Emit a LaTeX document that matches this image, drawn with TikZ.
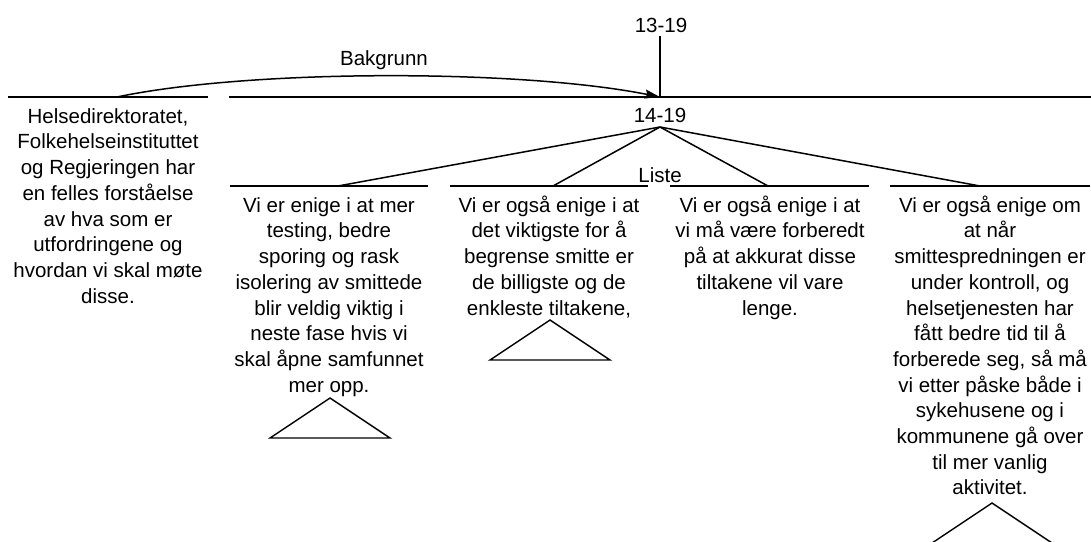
\documentclass[tikz,border=0pt]{standalone}
\usepackage{fontspec}
\setmainfont{Liberation Sans}
\usetikzlibrary{arrows.meta}
\begin{document}
\begin{tikzpicture}[x=1pt,y=-1pt,
  every node/.style={font=\fontsize{20.5}{25.7}\selectfont, inner sep=0pt},
  lbl/.style={anchor=base},
  txt/.style={anchor=north, align=center},
  bar/.style={line width=1.6pt},
  conn/.style={line width=1.5pt},
  tri/.style={line width=1.4pt},
]
\clip (0,0) rectangle (1091,541);
\fill[white] (0,0) rectangle (1091,541);

% labels
\node[lbl] (n1319) at (661,32) {13-19};
\node[lbl] (n1419) at (660,122) {14-19};
\node[lbl] (bak) at (384,65) {Bakgrunn};
\node[lbl] (liste) at (660,182) {Liste};

% key points
\coordinate (top) at (660,36);
\coordinate (junc) at (660,97);
\coordinate (apex) at (660,127);

% bars
\coordinate (b0l) at (8,97);    \coordinate (b0r) at (208,97);
\coordinate (mainl) at (229,97); \coordinate (mainr) at (1091,97);
\coordinate (b1l) at (230,186); \coordinate (b1r) at (428,186);
\coordinate (b2l) at (450,186); \coordinate (b2r) at (648,186);
\coordinate (b3l) at (670,186); \coordinate (b3r) at (869,186);
\coordinate (b4l) at (890,186); \coordinate (b4r) at (1090,186);

\draw[bar] (b0l) -- (b0r);
\draw[bar] (mainl) -- (mainr);
\draw[bar] (b1l) -- (b1r);
\draw[bar] (b2l) -- (b2r);
\draw[bar] (b3l) -- (b3r);
\draw[bar] (b4l) -- (b4r);

% attach points
\coordinate (a0) at (117,97);
\coordinate (a1) at (338,186);
\coordinate (a2) at (553,186);
\coordinate (a3) at (768,186);
\coordinate (a4) at (980,186);

\draw[conn] (top) -- (junc);
\draw[conn,-{Stealth[length=15pt,width=9pt,inset=2pt]}] (a0) .. controls (250,69) and (520,69) .. (junc);
\draw[conn] (apex) -- (a1);
\draw[conn] (apex) -- (a2);
\draw[conn] (apex) -- (a3);
\draw[conn] (apex) -- (a4);

% texts
\node[txt] (left) at (108,105) {\rule{0pt}{18pt}Helsedirektoratet,\\Folkehelseinstituttet\\og Regjeringen har\\en felles forståelse\\av hva som er\\utfordringene og\\hvordan vi skal møte\\disse.};
\node[txt] (s1) at (329,194) {\rule{0pt}{18pt}Vi er enige i at mer\\testing, bedre\\sporing og rask\\isolering av smittede\\blir veldig viktig i\\neste fase hvis vi\\skal åpne samfunnet\\mer opp.};
\node[txt] (s2) at (549,194) {\rule{0pt}{18pt}Vi er også enige i at\\det viktigste for å\\begrense smitte er\\de billigste og de\\enkleste tiltakene,};
\node[txt] (s3) at (770,194) {\rule{0pt}{18pt}Vi er også enige i at\\vi må være forberedt\\på at akkurat disse\\tiltakene vil vare\\lenge.};
\node[txt] (s4) at (990,194) {\rule{0pt}{18pt}Vi er også enige om\\at når\\smittespredningen er\\under kontroll, og\\helsetjenesten har\\fått bedre tid til å\\forberede seg, så må\\vi etter påske både i\\sykehusene og i\\kommunene gå over\\til mer vanlig\\aktivitet.};

% collapsed-subtree triangles
\coordinate (t1a) at (330,398); \coordinate (t1l) at (270,438); \coordinate (t1r) at (390,438);
\coordinate (t2a) at (550,320); \coordinate (t2l) at (490,360); \coordinate (t2r) at (610,360);
\coordinate (t4a) at (992,503); \coordinate (t4l) at (932,543); \coordinate (t4r) at (1052,543);
\draw[tri] (t1a) -- (t1l) -- (t1r) -- cycle;
\draw[tri] (t2a) -- (t2l) -- (t2r) -- cycle;
\draw[tri] (t4a) -- (t4l) -- (t4r) -- cycle;
\end{tikzpicture}
\end{document}
